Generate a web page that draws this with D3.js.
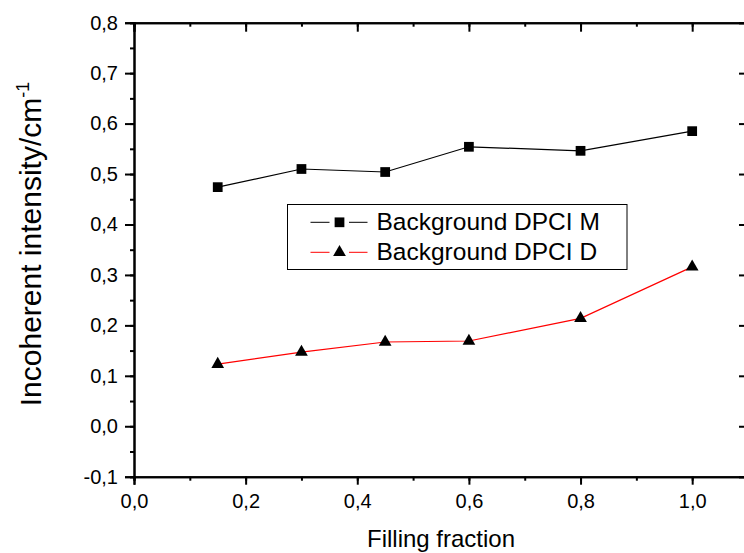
<!DOCTYPE html>
<html><head><meta charset="utf-8">
<script src="https://cdn.jsdelivr.net/npm/d3@7"></script>
<style>body{margin:0;background:#fff;overflow:hidden}svg{display:block}
.tick text{font-family:"Liberation Sans",Arial,sans-serif;font-size:20px;fill:#000}</style>
</head><body>
<svg id="c" width="744" height="553"></svg>
<script>
const fillingFraction = [0.15, 0.3, 0.45, 0.6, 0.8, 1.0];
const seriesM = [0.474, 0.510, 0.504, 0.554, 0.546, 0.585];
const seriesD = [0.123, 0.147, 0.167, 0.169, 0.214, 0.316];
const seriesNames = ["Background DPCI M", "Background DPCI D"];
const xTicks = [0, 0.2, 0.4, 0.6, 0.8, 1.0];
const yTicks = [-0.1, 0, 0.1, 0.2, 0.3, 0.4, 0.5, 0.6, 0.7, 0.8];

const svg = d3.select("#c");
const x = d3.scaleLinear().domain([0, 1.1]).range([134, 748]);
const y = d3.scaleLinear().domain([-0.1, 0.8]).range([476.7, 22.7]);
const fmt = d => d3.format(".1f")(d).replace(".", ",").replace("−", "-");
const font = "Liberation Sans, Arial, sans-serif";

const xMinor = d3.range(0, 1.11, 0.1);
const yMinor = d3.range(-0.1, 0.81, 0.05);

// bottom axis
svg.append("g").attr("transform", `translate(0,${y(-0.1)})`)
  .call(d3.axisBottom(x).tickValues(xTicks).tickSize(8).tickPadding(9).tickFormat(fmt));
svg.append("g").attr("transform", `translate(0,${y(-0.1)})`)
  .call(d3.axisBottom(x).tickValues(xMinor).tickSize(4).tickFormat(""));
// top axis
svg.append("g").attr("transform", `translate(0,${y(0.8)})`)
  .call(d3.axisBottom(x).tickValues(xTicks).tickSize(9).tickFormat(""));
svg.append("g").attr("transform", `translate(0,${y(0.8)})`)
  .call(d3.axisBottom(x).tickValues(xMinor).tickSize(4).tickFormat(""));
// left axis
svg.append("g").attr("transform", `translate(${x(0)},0)`)
  .call(d3.axisLeft(y).tickValues(yTicks).tickSize(9).tickPadding(7).tickFormat(fmt));
svg.append("g").attr("transform", `translate(${x(0)},0)`)
  .call(d3.axisLeft(y).tickValues(yMinor).tickSize(4).tickFormat(""));
// right axis
svg.append("g").attr("transform", `translate(${x(1.1)},0)`)
  .call(d3.axisLeft(y).tickValues(yTicks).tickSize(9).tickFormat(""));
svg.append("g").attr("transform", `translate(${x(1.1)},0)`)
  .call(d3.axisLeft(y).tickValues(yMinor).tickSize(4).tickFormat(""));

svg.selectAll(".domain").attr("stroke", "#000").attr("stroke-width", 2);
svg.selectAll(".tick line").attr("stroke", "#000").attr("stroke-width", 2);

// lines
const mk = (vals) => fillingFraction.map((f, i) => [f, vals[i]]);
const line = d3.line().x(d => x(d[0])).y(d => y(d[1]));
svg.append("path").datum(mk(seriesM)).attr("d", line).attr("fill", "none").attr("stroke", "#000").attr("stroke-width", 1.2);
svg.append("path").datum(mk(seriesD)).attr("d", line).attr("fill", "none").attr("stroke", "#ff0000").attr("stroke-width", 1.2);

const sq = d3.symbol().type(d3.symbolSquare).size(95);
const tri = d3.symbol().type(d3.symbolTriangle).size(70);
svg.selectAll(".m").data(mk(seriesM)).join("path")
  .attr("d", sq).attr("transform", d => `translate(${x(d[0])},${y(d[1])})`).attr("fill", "#000");
svg.selectAll(".d").data(mk(seriesD)).join("path")
  .attr("d", tri).attr("transform", d => `translate(${x(d[0])},${y(d[1])})`).attr("fill", "#000");

// legend
const lg = svg.append("g");
lg.append("rect").attr("x", 287.5).attr("y", 204.5).attr("width", 339.5).attr("height", 65)
  .attr("fill", "#fff").attr("stroke", "#000").attr("stroke-width", 1);
const rows = [{name: seriesNames[0], col: "#000", sym: sq, cy: 222.3},
              {name: seriesNames[1], col: "#ff0000", sym: tri, cy: 252.3}];
rows.forEach(r => {
  [[310.5, 329.5], [349, 367.5]].forEach(s =>
    lg.append("line").attr("x1", s[0]).attr("x2", s[1]).attr("y1", r.cy).attr("y2", r.cy)
      .attr("stroke", r.col).attr("stroke-width", 1));
  lg.append("path").attr("d", r.sym).attr("transform", `translate(339.5,${r.cy})`).attr("fill", "#000");
  lg.append("text").attr("x", 376.5).attr("y", r.cy + 7.8).text(r.name)
    .attr("font-family", font).attr("font-size", 24.5).attr("fill", "#000");
});

// axis titles
svg.append("text").attr("x", 441).attr("y", 547).attr("text-anchor", "middle")
  .attr("font-family", font).attr("font-size", 24).text("Filling fraction");
const yt = svg.append("text").attr("transform", "translate(41,244) rotate(-90)")
  .attr("text-anchor", "middle").attr("font-family", font).attr("font-size", 30);
yt.append("tspan").text("Incoherent intensity/cm");
yt.append("tspan").attr("dy", -12).attr("font-size", 18).text("-1");
</script>
</body></html>
